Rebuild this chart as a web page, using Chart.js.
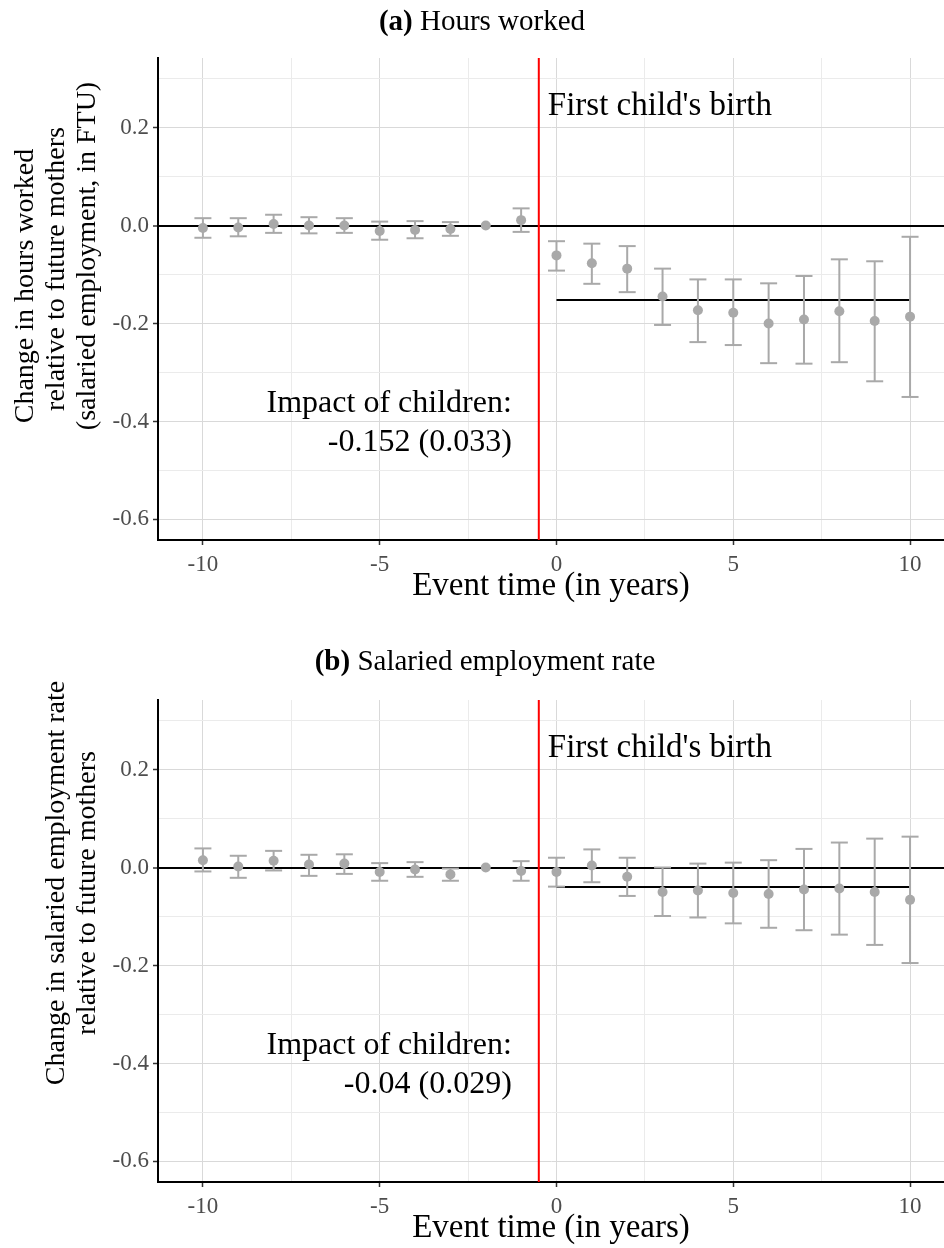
<!DOCTYPE html>
<html>
<head>
<meta charset="utf-8">
<script src="https://cdn.jsdelivr.net/npm/chart.js@4.4.1/dist/chart.umd.min.js"></script>
<style>
body { margin: 0; background: #fff; }
#wrap { position: relative; width: 944px; height: 1248px; font-family: 'Liberation Serif', serif; }
.ptitle { position: absolute; left: 0; width: 964px; text-align: center; font-size: 29px; line-height: 34px; color: #000; z-index: 2; }
canvas { position: absolute; left: 0; }
</style>
</head>
<body>
<div id="wrap">
  <canvas id="chartA" width="944" height="606" style="top:0"></canvas>
  <canvas id="chartB" width="944" height="642" style="top:606px"></canvas>
  <div class="ptitle" style="top:3px"><b>(a)</b> Hours worked</div>
  <div class="ptitle" style="top:643px; left:3px"><b>(b)</b> Salaried employment rate</div>
</div>
<script>
// event time, in years
const years = [-10, -9, -8, -7, -6, -5, -4, -3, -2, -1, 0, 1, 2, 3, 4, 5, 6, 7, 8, 9, 10]

// (a) hours worked
const hoursEst = [-0.005, -0.004, 0.003, 0.000, 0.000, -0.011, -0.009, -0.007, 0, 0.011,
    -0.061, -0.077, -0.088, -0.145, -0.173, -0.178, -0.200, -0.192, -0.175, -0.195, -0.186]
const hoursLow = [-0.025, -0.022, -0.015, -0.016, -0.015, -0.029, -0.026, -0.021, null, -0.013,
    -0.092, -0.119, -0.136, -0.203, -0.238, -0.244, -0.281, -0.282, -0.279, -0.318, -0.350]
const hoursHigh = [0.015, 0.015, 0.022, 0.017, 0.015, 0.008, 0.009, 0.007, null, 0.035,
    -0.032, -0.037, -0.042, -0.088, -0.110, -0.110, -0.118, -0.103, -0.069, -0.073, -0.023]
const hoursImpact = -0.152
const hoursImpactText = ['Impact of children:', '-0.152 (0.033)']

// (b) salaried employment rate
const rateEst = [0.015, 0.002, 0.014, 0.006, 0.008, -0.009, -0.004, -0.014, 0, -0.007,
    -0.009, 0.004, -0.019, -0.050, -0.047, -0.052, -0.054, -0.045, -0.043, -0.050, -0.066]
const rateLow = [-0.008, -0.021, -0.006, -0.017, -0.013, -0.027, -0.019, -0.027, null, -0.027,
    -0.039, -0.030, -0.058, -0.099, -0.102, -0.114, -0.123, -0.128, -0.137, -0.158, -0.195]
const rateHigh = [0.039, 0.024, 0.034, 0.026, 0.027, 0.009, 0.011, -0.002, null, 0.013,
    0.020, 0.037, 0.020, 0.000, 0.008, 0.010, 0.015, 0.038, 0.051, 0.059, 0.063]
const rateImpact = -0.04
const rateImpactText = ['Impact of children:', '-0.04 (0.029)']

// axes
const yTicks = [-0.6, -0.5, -0.4, -0.3, -0.2, -0.1, 0, 0.1, 0.2, 0.3]
const yMajor = [-0.6, -0.4, -0.2, 0, 0.2]
const xTicks = [-10, -7.5, -5, -2.5, 0, 2.5, 5, 7.5, 10]
const xMajor = [-10, -5, 0, 5, 10]
const birthLine = -0.5
const birthText = "First child's birth"
const xTitle = 'Event time (in years)'

const SERIF = "'Liberation Serif', serif"
const GREY = '#a9a9a9'

function createGraph(id, est, low, high, impact, impactText, layout) {
    const ctx = document.getElementById(id).getContext('2d')

    const points = years.map((x, i) => ({ x: x, y: est[i] }))
    const bars = []
    years.forEach((x, i) => {
        if (low[i] === null) return
        bars.push({ x: x, y: low[i] }, { x: x, y: high[i] }, { x: x, y: null })
    })
    const post = years.filter(x => x >= 0)
    const meanLine = [{ x: post[0], y: impact }, { x: post[post.length - 1], y: impact }]

    const overlay = {
        id: 'overlay',
        beforeDatasetsDraw(chart) {
            const { ctx, chartArea, scales } = chart
            const px = scales.x.getPixelForValue(birthLine)
            ctx.save()
            ctx.strokeStyle = '#ff0000'
            ctx.lineWidth = 2
            ctx.beginPath()
            ctx.moveTo(px, chartArea.top)
            ctx.lineTo(px, chartArea.bottom)
            ctx.stroke()
            ctx.restore()
        },
        afterDatasetsDraw(chart) {
            const { ctx, scales } = chart
            const px = scales.x.getPixelForValue(birthLine)
            ctx.save()
            ctx.fillStyle = '#000'
            ctx.font = '33px ' + SERIF
            ctx.textBaseline = 'alphabetic'
            ctx.textAlign = 'left'
            ctx.fillText(birthText, px + 9, scales.y.getPixelForValue(0.226))
            ctx.font = '32px ' + SERIF
            ctx.textAlign = 'right'
            ctx.fillText(impactText[0], px - 27, scales.y.getPixelForValue(-0.380))
            ctx.fillText(impactText[1], px - 27, scales.y.getPixelForValue(-0.461))
            ctx.restore()
        },
        afterDraw(chart) {
            const { ctx } = chart
            ctx.save()
            ctx.fillStyle = '#000'
            ctx.font = '28px ' + SERIF
            ctx.textAlign = 'center'
            ctx.textBaseline = 'middle'
            layout.yTitle.forEach(l => {
                ctx.save()
                ctx.translate(l.x, l.y)
                ctx.rotate(-Math.PI / 2)
                ctx.fillText(l.text, 0, 0)
                ctx.restore()
            })
            ctx.restore()
        }
    }

    return new Chart(ctx, {
        type: 'scatter',
        data: {
            datasets: [
                {
                    type: 'line',
                    data: meanLine,
                    borderColor: '#000',
                    borderWidth: 2,
                    pointRadius: 0,
                    order: 3
                },
                {
                    type: 'line',
                    data: bars,
                    borderColor: GREY,
                    borderWidth: 2,
                    pointStyle: 'line',
                    pointRadius: 8.5,
                    pointBorderColor: GREY,
                    pointBorderWidth: 2,
                    spanGaps: false,
                    order: 2
                },
                {
                    data: points,
                    backgroundColor: GREY,
                    borderWidth: 0,
                    pointRadius: 5,
                    order: 1
                }
            ]
        },
        options: {
            responsive: false,
            animation: false,
            devicePixelRatio: 1,
            layout: {
                autoPadding: false,
                padding: { top: layout.top, right: 0, bottom: 0, left: 0 }
            },
            scales: {
                x: {
                    type: 'linear',
                    min: -11.27,
                    max: 10.96,
                    afterBuildTicks: s => { s.ticks = xTicks.map(v => ({ value: v })) },
                    afterFit: s => { s.height = 66; s.paddingLeft = 0; s.paddingRight = 0 },
                    ticks: {
                        autoSkip: false,
                        maxRotation: 0,
                        padding: 6,
                        color: '#4d4d4d',
                        font: { family: SERIF, size: 23 },
                        callback: v => xMajor.includes(v) ? String(v) : ''
                    },
                    grid: {
                        color: c => xMajor.includes(c.tick.value) ? '#d9d9d9' : '#ebebeb',
                        tickColor: c => xMajor.includes(c.tick.value) ? '#333' : 'rgba(0,0,0,0)',
                        tickLength: 5,
                        tickWidth: 1.5
                    },
                    border: { color: '#000', width: 2 },
                    title: {
                        display: true,
                        text: xTitle,
                        color: '#000',
                        font: { family: SERIF, size: 33 },
                        padding: { top: 0, bottom: 0 }
                    }
                },
                y: {
                    type: 'linear',
                    min: -0.642,
                    max: 0.342,
                    afterBuildTicks: s => { s.ticks = yTicks.map(v => ({ value: v })) },
                    afterFit: s => { s.width = 158 },
                    ticks: {
                        autoSkip: false,
                        padding: 4,
                        color: '#4d4d4d',
                        font: { family: SERIF, size: 23 },
                        callback: v => yMajor.includes(v) ? v.toFixed(1) : ''
                    },
                    grid: {
                        color: c => c.tick.value === 0 ? '#000' : (yMajor.includes(c.tick.value) ? '#d9d9d9' : '#ebebeb'),
                        lineWidth: c => c.tick.value === 0 ? 2 : 1,
                        tickColor: c => yMajor.includes(c.tick.value) ? '#333' : 'rgba(0,0,0,0)',
                        tickLength: 5,
                        tickWidth: 1.5
                    },
                    border: { color: '#000', width: 2 }
                }
            },
            plugins: {
                legend: { display: false },
                tooltip: { enabled: false }
            }
        },
        plugins: [overlay]
    })
}

createGraph('chartA', hoursEst, hoursLow, hoursHigh, hoursImpact, hoursImpactText, {
    top: 58,
    yTitle: [
        { text: 'Change in hours worked', x: 26, y: 286 },
        { text: 'relative to future mothers', x: 57, y: 269 },
        { text: '(salaried employment, in FTU)', x: 88, y: 256 }
    ]
})

createGraph('chartB', rateEst, rateLow, rateHigh, rateImpact, rateImpactText, {
    top: 94,
    yTitle: [
        { text: 'Change in salaried employment rate', x: 57, y: 277 },
        { text: 'relative to future mothers', x: 88, y: 287 }
    ]
})
</script>
</body>
</html>
